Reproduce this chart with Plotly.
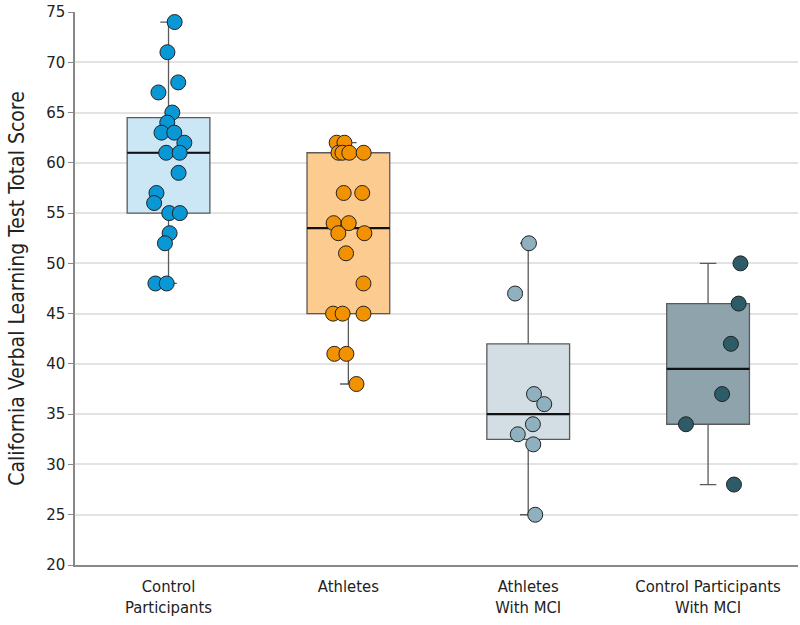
import numpy as np
import plotly.graph_objects as go

groups = ["Control<br>Participants", "Athletes", "Athletes<br>With MCI", "Control Participants<br>With MCI"]

control = [74, 71, 68, 67, 65, 64, 63, 63, 62, 61, 61, 59, 57, 56, 55, 55, 53, 52, 48, 48]
control_jit = [0.034, -0.006, 0.054, -0.056, 0.021, -0.007, -0.039, 0.032, 0.088, -0.013,
               0.062, 0.056, -0.067, -0.080, 0.004, 0.063, 0.006, -0.020, -0.073, -0.010]

athletes = [62, 62, 61, 61, 61, 61, 57, 57, 54, 54, 53, 53, 51, 48, 45, 45, 45, 41, 41, 38]
athletes_jit = [-0.065, -0.022, -0.055, -0.033, 0.005, 0.085, -0.026, 0.077, -0.082, 0.002,
                -0.056, 0.089, -0.013, 0.084, -0.085, -0.032, 0.084, -0.078, -0.011, 0.045]

athletes_mci = [52, 47, 37, 36, 34, 33, 32, 25]
athletes_mci_jit = [0.004, -0.073, 0.032, 0.089, 0.026, -0.058, 0.028, 0.039]

control_mci = [50, 46, 42, 37, 34, 28]
control_mci_jit = [0.18, 0.17, 0.127, 0.078, -0.123, 0.144]

all_vals = [control, athletes, athletes_mci, control_mci]
all_jit = [control_jit, athletes_jit, athletes_mci_jit, control_mci_jit]
marker_colors = ["#0A97D6", "#F39200", "#8FB0BE", "#2E5B68"]
box_fills = ["#CBE7F6", "#FCCB8F", "#D3DEE4", "#8FA3AD"]

box_w = 0.46
fig = go.Figure()

for i, vals in enumerate(all_vals):
    fig.add_trace(go.Box(
        x=[i] * len(vals), y=vals, width=box_w, boxpoints=False,
        fillcolor=box_fills[i], line=dict(color="#5a5a5a", width=1.3),
        whiskerwidth=0.2, quartilemethod="exclusive", hoverinfo="skip",
    ))
    # median drawn separately so it can be black and heavier than the box outline
    med = float(np.median(vals))
    fig.add_trace(go.Scatter(
        x=[i - box_w / 2, i + box_w / 2], y=[med, med], mode="lines",
        line=dict(color="#111111", width=2.2), hoverinfo="skip",
    ))
    fig.add_trace(go.Scatter(
        x=[i + j for j in all_jit[i]], y=vals, mode="markers",
        marker=dict(size=15, color=marker_colors[i], line=dict(color="#222222", width=1)),
    ))

fig.update_layout(
    width=800, height=625, showlegend=False,
    plot_bgcolor="white", paper_bgcolor="white",
    margin=dict(l=75, r=2, t=12, b=60),
    font=dict(family="DejaVu Sans Condensed", color="#222222"),
)
fig.update_xaxes(
    tickvals=list(range(4)), ticktext=groups, range=[-0.52, 3.5],
    showline=True, linecolor="#888888", linewidth=2, showgrid=False,
    tickfont=dict(family="DejaVu Sans Condensed", size=16.5), ticks="",
    ticklabelstandoff=5, zeroline=False,
)
fig.update_yaxes(
    range=[20, 75], dtick=5, tick0=20,
    showline=True, linecolor="#888888", linewidth=1.5,
    ticks="outside", ticklen=5, tickcolor="#888888",
    showgrid=True, gridcolor="#E3E3E3", gridwidth=1.5, zeroline=False,
    tickfont=dict(family="DejaVu Sans", size=15),
    title=dict(text="California Verbal Learning Test Total Score",
               font=dict(family="DejaVu Sans Condensed", size=21), standoff=16),
)

fig.write_html("out.html", config={"displayModeBar": False},
               post_script="document.body.style.margin='0';")
